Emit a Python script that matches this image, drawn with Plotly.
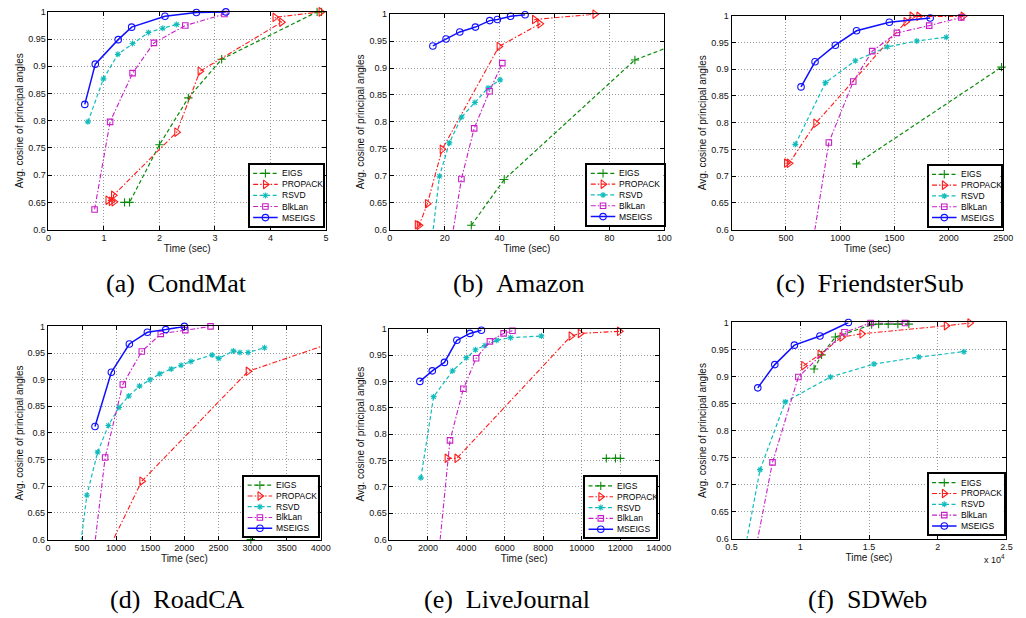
import plotly.graph_objects as go

W, H = 1026, 618

# ---------------- series definitions ----------------
names = ["EIGS", "PROPACK", "RSVD", "BlkLan", "MSEIGS"]
colors = ["#0a8a0a", "#ff1a1a", "#12bcbc", "#c81ec8", "#1010ff"]
dashes = ["4px,2.5px", "5px,2px,1.5px,2px", "4px,2.5px", "5px,2px,1.5px,2px", "solid"]
symbols = ["cross-thin-open", "triangle-right-open", "asterisk-open", "square-open", "circle-open"]
msizes = [6, 7.5, 5, 5.5, 6.5]
lwidths = [1.2, 1.1, 1.2, 1.1, 1.5]

# ---------------- (a) CondMat ----------------
condmat_eigs_x = [1.37, 1.46, 2.0, 2.52, 3.12, 4.84, 4.92]
condmat_eigs_y = [0.650, 0.650, 0.756, 0.842, 0.913, 1.0, 1.0]
condmat_propack_x = [1.07, 1.13, 1.18, 1.17, 2.31, 2.73, 4.20, 4.08, 4.91]
condmat_propack_y = [0.654, 0.652, 0.651, 0.663, 0.779, 0.891, 0.981, 0.990, 1.0]
condmat_rsvd_x = [0.71, 0.99, 1.25, 1.515, 1.80, 2.06, 2.31]
condmat_rsvd_y = [0.798, 0.877, 0.922, 0.942, 0.962, 0.970, 0.977]
condmat_blklan_x = [0.83, 1.11, 1.515, 1.90, 2.465, 3.17]
condmat_blklan_y = [0.637, 0.798, 0.8875, 0.943, 0.975, 0.996]
condmat_mseigs_x = [0.654, 0.843, 1.256, 1.498, 2.099, 2.665, 3.196]
condmat_mseigs_y = [0.830, 0.904, 0.949, 0.972, 0.992, 0.999, 1.0]

# ---------------- (b) Amazon ----------------
amazon_eigs_x = [29.7, 41.7, 89.3, 110]
amazon_eigs_y = [0.608, 0.693, 0.915, 0.955]
amazon_propack_x = [10.0, 10.7, 13.7, 19.07, 39.8, 54.7, 52.7, 74.7]
amazon_propack_y = [0.609, 0.608, 0.648, 0.749, 0.940, 0.982, 0.990, 1.0]
amazon_rsvd_x = [15.0, 18.1, 21.7, 26.2, 31.0, 35.8, 40.2]
amazon_rsvd_y = [0.565, 0.699, 0.761, 0.809, 0.836, 0.863, 0.878]
amazon_blklan_x = [22.5, 26.1, 30.75, 36.35, 41.0]
amazon_blklan_y = [0.58, 0.694, 0.788, 0.857, 0.909]
amazon_mseigs_x = [15.7, 20.5, 25.5, 31.2, 36.4, 39.2, 44.0, 49.3]
amazon_mseigs_y = [0.941, 0.954, 0.967, 0.976, 0.988, 0.990, 0.996, 0.999]

# ---------------- (c) FriendsterSub ----------------
friend_eigs_x = [1150, 2485]
friend_eigs_y = [0.723, 0.904]
friend_propack_x = [505, 530, 774, 1605, 1660, 1723, 2130]
friend_propack_y = [0.7245, 0.724, 0.799, 0.989, 0.999, 0.999, 0.999]
friend_rsvd_x = [587, 864, 1139, 1434, 1705, 1976]
friend_rsvd_y = [0.7595, 0.875, 0.916, 0.942, 0.953, 0.960]
friend_blklan_x = [735, 895, 1120, 1295, 1521, 1819, 2114]
friend_blklan_y = [0.56, 0.763, 0.877, 0.934, 0.968, 0.9816, 0.997]
friend_mseigs_x = [639, 768, 955, 1150, 1452, 1828]
friend_mseigs_y = [0.867, 0.914, 0.945, 0.972, 0.988, 0.996]

# ---------------- (d) RoadCA ----------------
road_eigs_x = [2975]
road_eigs_y = [0.6]
road_propack_x = [770, 1376, 2935, 4300]
road_propack_y = [0.55, 0.7095, 0.9157, 0.975]
road_rsvd_x = [450, 571, 729, 887, 1041, 1185, 1343, 1496, 1640, 1808, 1952, 2096,
               2408, 2504, 2719, 2815, 2935, 3175]
road_rsvd_y = [0.56, 0.683, 0.764, 0.814, 0.848, 0.8695, 0.888, 0.900, 0.911, 0.920,
               0.927, 0.934, 0.9465, 0.940, 0.954, 0.951, 0.951, 0.960]
road_blklan_x = [658, 839, 1098, 1376, 1655, 2014, 2384]
road_blklan_y = [0.56, 0.754, 0.891, 0.953, 0.986, 0.993, 1.0]
road_mseigs_x = [690, 930, 1194, 1458, 1727, 2000]
road_mseigs_y = [0.812, 0.914, 0.967, 0.989, 0.994, 1.0]

# ---------------- (e) LiveJournal ----------------
lj_eigs_x = [11277, 11753, 12008]
lj_eigs_y = [0.754, 0.754, 0.754]
lj_propack_x = [2994, 3504, 9441, 9917, 11958]
lj_propack_y = [0.754, 0.754, 0.986, 0.991, 0.995]
lj_rsvd_x = [1633, 2296, 3283, 3997, 4474, 4967, 5579, 6294, 7900]
lj_rsvd_y = [0.717, 0.871, 0.920, 0.945, 0.960, 0.968, 0.978, 0.983, 0.986]
lj_blklan_x = [2527, 3147, 3844, 4507, 5222, 5936, 6396]
lj_blklan_y = [0.56, 0.788, 0.886, 0.944, 0.976, 0.991, 0.996]
lj_mseigs_x = [1582, 2228, 2858, 3504, 4184, 4780]
lj_mseigs_y = [0.900, 0.920, 0.936, 0.978, 0.991, 0.997]

# ---------------- (f) SDWeb ----------------
sd_eigs_x = [11000, 11548, 12548, 15190, 15700, 16400, 17100, 17900]
sd_eigs_y = [0.914, 0.940, 0.973, 0.996, 0.997, 0.997, 0.997, 0.997]
sd_propack_x = [10238, 11429, 13024, 14476, 20619, 22333]
sd_propack_y = [0.920, 0.941, 0.973, 0.979, 0.994, 0.999]
sd_rsvd_x = [5750, 7071, 8905, 12190, 15357, 18619, 21905]
sd_rsvd_y = [0.55, 0.7275, 0.853, 0.899, 0.923, 0.936, 0.946]
sd_blklan_x = [6525, 7976, 9857, 13214, 15119, 17619]
sd_blklan_y = [0.55, 0.741, 0.899, 0.982, 0.999, 0.999]
sd_mseigs_x = [6905, 8143, 9571, 11429, 13500]
sd_mseigs_y = [0.879, 0.922, 0.958, 0.975, 1.0]

# ---------------- ticks ----------------
y_tickvals = [0.6, 0.65, 0.7, 0.75, 0.8, 0.85, 0.9, 0.95, 1.0]
y_ticktext = ["0.6", "0.65", "0.7", "0.75", "0.8", "0.85", "0.9", "0.95", "1"]
condmat_xticks = [0, 1, 2, 3, 4, 5]
amazon_xticks = [0, 20, 40, 60, 80, 100]
friend_xticks = [0, 500, 1000, 1500, 2000, 2500]
road_xticks = [0, 500, 1000, 1500, 2000, 2500, 3000, 3500, 4000]
lj_xticks = [0, 2000, 4000, 6000, 8000, 10000, 12000, 14000]
sd_xticks = [5000, 10000, 15000, 20000, 25000]
sd_xticktext = ["0.5", "1", "1.5", "2", "2.5"]

captions = ["(a)\u2002CondMat", "(b)\u2002Amazon", "(c)\u2002FriendsterSub",
            "(d)\u2002RoadCA", "(e)\u2002LiveJournal", "(f)\u2002SDWeb"]

panels = [
    dict(series=[(condmat_eigs_x, condmat_eigs_y), (condmat_propack_x, condmat_propack_y),
                 (condmat_rsvd_x, condmat_rsvd_y), (condmat_blklan_x, condmat_blklan_y),
                 (condmat_mseigs_x, condmat_mseigs_y)],
         xrange=[0, 5], xticks=condmat_xticks, xtext=[str(v) for v in condmat_xticks]),
    dict(series=[(amazon_eigs_x, amazon_eigs_y), (amazon_propack_x, amazon_propack_y),
                 (amazon_rsvd_x, amazon_rsvd_y), (amazon_blklan_x, amazon_blklan_y),
                 (amazon_mseigs_x, amazon_mseigs_y)],
         xrange=[0, 100], xticks=amazon_xticks, xtext=[str(v) for v in amazon_xticks]),
    dict(series=[(friend_eigs_x, friend_eigs_y), (friend_propack_x, friend_propack_y),
                 (friend_rsvd_x, friend_rsvd_y), (friend_blklan_x, friend_blklan_y),
                 (friend_mseigs_x, friend_mseigs_y)],
         xrange=[0, 2500], xticks=friend_xticks, xtext=[str(v) for v in friend_xticks]),
    dict(series=[(road_eigs_x, road_eigs_y), (road_propack_x, road_propack_y),
                 (road_rsvd_x, road_rsvd_y), (road_blklan_x, road_blklan_y),
                 (road_mseigs_x, road_mseigs_y)],
         xrange=[0, 4000], xticks=road_xticks, xtext=[str(v) for v in road_xticks]),
    dict(series=[(lj_eigs_x, lj_eigs_y), (lj_propack_x, lj_propack_y),
                 (lj_rsvd_x, lj_rsvd_y), (lj_blklan_x, lj_blklan_y),
                 (lj_mseigs_x, lj_mseigs_y)],
         xrange=[0, 14000], xticks=lj_xticks, xtext=[str(v) for v in lj_xticks]),
    dict(series=[(sd_eigs_x, sd_eigs_y), (sd_propack_x, sd_propack_y),
                 (sd_rsvd_x, sd_rsvd_y), (sd_blklan_x, sd_blklan_y),
                 (sd_mseigs_x, sd_mseigs_y)],
         xrange=[5000, 25000], xticks=sd_xticks, xtext=sd_xticktext),
]

# ---------------- layout geometry (pixels: left, top, right, bottom) ----------------
plot_boxes = [(43.3, 7, 326, 228.3), (391, 9.3, 670.7, 228.3), (739.3, 11, 1016, 228.3),
              (42.7, 326.7, 320.7, 543.3), (390.7, 329, 665, 543.3), (739.3, 322.7, 1019.3, 542.3)]
legend_boxes = [(248.3, 162.3, 323.3, 224.3), (592.3, 162.3, 670, 223.3), (940, 163.3, 1013.3, 224.3),
                (242.7, 479.3, 317.7, 540), (590, 480, 662.7, 541), (940, 476.7, 1016.7, 537.7)]
caption_pos = [(174, 283), (522, 283), (880, 283), (175, 604), (510, 604), (878, 604)]


def xdom(l, r):
    return [l / W, r / W]


def ydom(t, b):
    return [1 - b / H, 1 - t / H]


sans = "Liberation Sans, Arial, sans-serif"
tick_font = dict(family=sans, size=9, color="#111")
title_font = dict(family=sans, size=10, color="#111")
grid_col = "#9a9a9a"

fig = go.Figure()
annotations = []
layout = dict(width=W, height=H, margin=dict(l=0, r=0, t=0, b=0), autosize=False,
              paper_bgcolor="white", plot_bgcolor="white", showlegend=False)

for k, p in enumerate(panels):
    n = k + 1
    xa = "x" if n == 1 else f"x{n}"
    ya = "y" if n == 1 else f"y{n}"
    for i, (sx, sy) in enumerate(p["series"]):
        fig.add_trace(go.Scatter(
            x=sx, y=sy, mode="lines+markers", xaxis=xa, yaxis=ya, name=names[i],
            line=dict(color=colors[i], width=lwidths[i], dash=dashes[i]),
            marker=dict(symbol=symbols[i], size=msizes[i], color=colors[i],
                        line=dict(width=1.1, color=colors[i])),
            cliponaxis=False, showlegend=False, hoverinfo="x+y+name"))
    l, t, r, b = plot_boxes[k]
    common = dict(showline=True, linecolor="black", linewidth=1, mirror="ticks",
                  ticks="inside", ticklen=4, tickcolor="black", tickwidth=1,
                  showgrid=True, gridcolor=grid_col, griddash="1px,2px", gridwidth=1,
                  zeroline=False, tickfont=tick_font, layer="above traces")
    layout[f"xaxis{'' if n == 1 else n}"] = dict(
        domain=xdom(l, r), range=p["xrange"], tickmode="array", tickvals=p["xticks"],
        ticktext=p["xtext"], anchor=ya,
        title=dict(text="Time (sec)", font=title_font, standoff=2), **common)
    layout[f"yaxis{'' if n == 1 else n}"] = dict(
        domain=ydom(t, b), range=[0.6, 1.0], tickmode="array", tickvals=y_tickvals,
        ticktext=y_ticktext, anchor=xa,
        title=dict(text="Avg. cosine of principal angles", font=title_font, standoff=2), **common)

    # ----- legend drawn in its own small axes -----
    m = n + 6
    lx, lt, lr, lb = legend_boxes[k]
    lw, lh = lr - lx, lb - lt
    lxa, lya = f"x{m}", f"y{m}"
    row0, rowh = 8.8, (lh - 17.0) / 4.0
    for i in range(len(names)):
        yy = row0 + i * rowh
        fig.add_trace(go.Scatter(
            x=[3.5, 16, 28.5], y=[yy, yy, yy], mode="lines+markers", xaxis=lxa, yaxis=lya,
            line=dict(color=colors[i], width=lwidths[i], dash=dashes[i]),
            marker=dict(symbol=symbols[i], size=msizes[i], color=colors[i],
                        opacity=[0, 1, 0], line=dict(width=1.1, color=colors[i])),
            cliponaxis=False, showlegend=False, hoverinfo="skip"))
        annotations.append(dict(text=names[i], x=30.5, y=yy, xref=lxa, yref=lya,
                                xanchor="left", yanchor="middle", showarrow=False,
                                font=dict(family=sans, size=8.5, color="black")))
    lax = dict(showline=True, linecolor="black", linewidth=1.5, mirror=True, ticks="",
               showticklabels=False, showgrid=False, zeroline=False, fixedrange=True)
    layout[f"xaxis{m}"] = dict(domain=xdom(lx, lr), range=[0, lw], anchor=lya, **lax)
    layout[f"yaxis{m}"] = dict(domain=ydom(lt, lb), range=[lh, 0], anchor=lxa, **lax)

    cx, cy = caption_pos[k]
    annotations.append(dict(text=captions[k], x=cx / W, y=1 - cy / H, xref="paper", yref="paper",
                            xanchor="center", yanchor="middle", showarrow=False,
                            font=dict(family="Liberation Serif, Times New Roman, serif",
                                      size=26, color="black")))

annotations.append(dict(text="x 10<sup>4</sup>", x=1020 / W, y=1 - 563 / H, xref="paper",
                        yref="paper", xanchor="right", yanchor="middle", showarrow=False,
                        font=dict(family=sans, size=9, color="#111")))

layout["annotations"] = annotations
fig.update_layout(**layout)
fig.write_html("out.html")
